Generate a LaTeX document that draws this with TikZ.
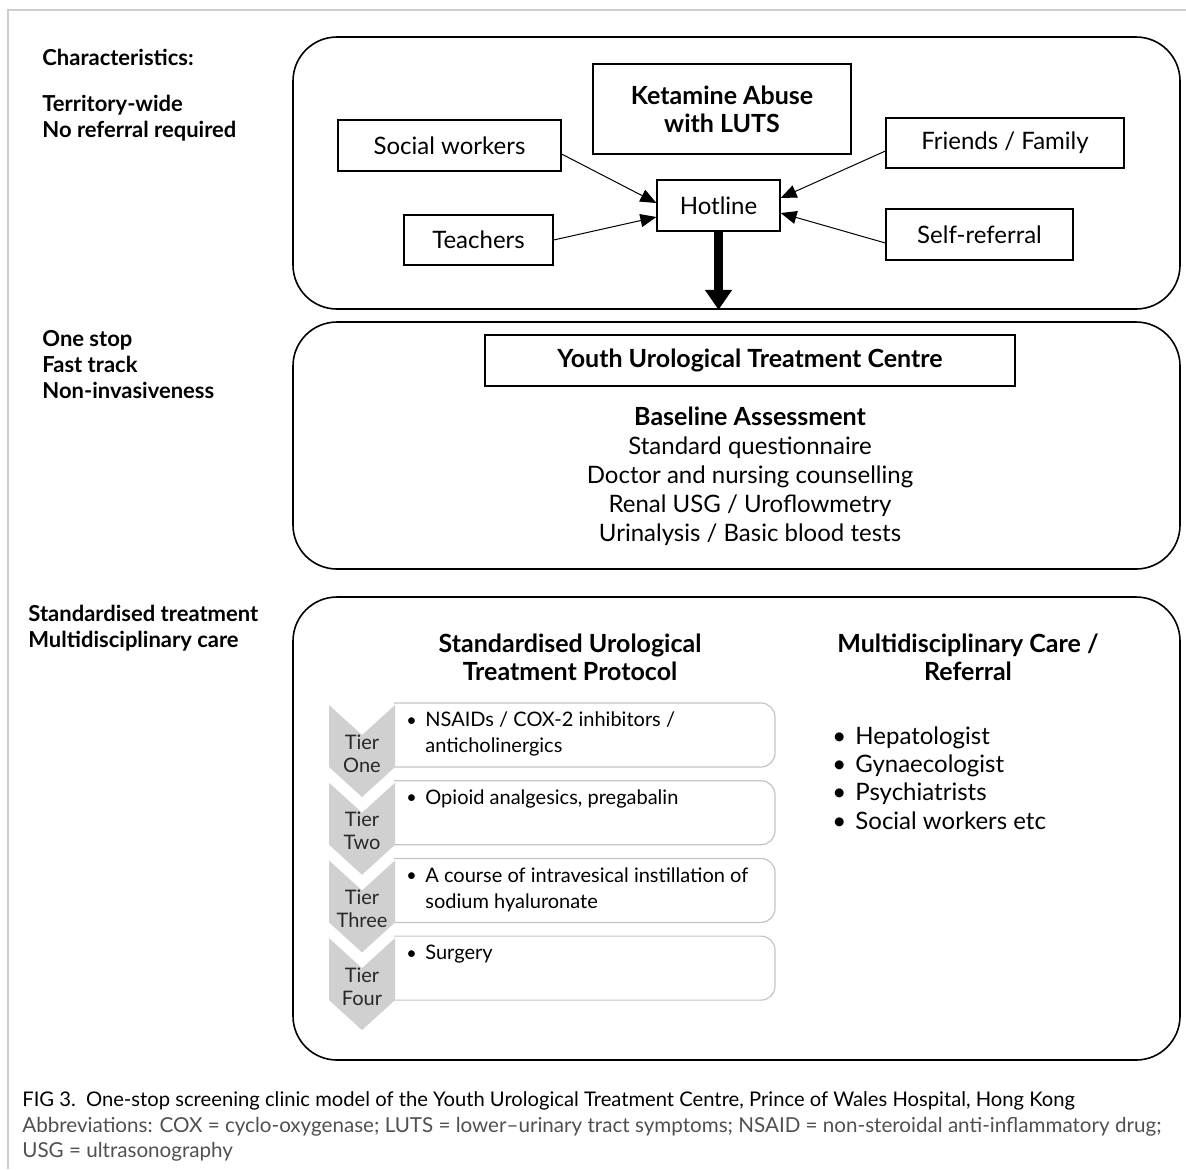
\documentclass[tikz,border=0pt]{standalone}
\usepackage{fontspec}
\setmainfont{Lato}
\usepackage{tikz}
\usetikzlibrary{arrows.meta, positioning, calc}
\definecolor{fgray}{RGB}{205,205,205}
\definecolor{cgray}{RGB}{208,208,208}
\definecolor{bgray}{RGB}{196,196,196}
\definecolor{tgray}{RGB}{40,40,40}
\definecolor{agray}{RGB}{80,80,80}
\newcommand{\refbul}{\makebox[11.5pt][l]{\textbullet}}

\begin{document}
\begin{tikzpicture}[x=0.5pt, y=-0.5pt, inner sep=0pt, font=\fontsize{12}{14}\selectfont,
    panel/.style={draw, line width=0.8pt, rounded corners=22pt},
    sbox/.style={draw, line width=0.6pt, align=center},
    feed/.style={-{Triangle[length=8pt,width=6.5pt]}, line width=0.5pt},
    lbl/.style={anchor=west, align=left, font=\fontsize{11}{13}\selectfont\bfseries},
    head/.style={align=center, font=\fontsize{12.5}{14}\selectfont\bfseries}]
  \useasboundingbox (0,0) rectangle (1186,1169);
  \draw[fgray, line width=1pt] (8,1169) -- (8,10) -- (1186,10);

  \node[lbl] (chr) at (42,57) {Characteristics:};
  \node[lbl] (ter) at (42,118.5) {Territory-wide\\No referral required};
  \node[lbl] (one) at (42,365) {One stop\\Fast track\\Non-invasiveness};
  \node[lbl] (std) at (28,628) {Standardised treatment\\Multidisciplinary care};

  \node[panel, minimum width=443.5pt, minimum height=136pt] (p1) at (736.5,173) {};
  \node[panel, minimum width=443.5pt, minimum height=123.5pt] (p2) at (736.5,445.5) {};
  \node[panel, minimum width=443.5pt, minimum height=231.5pt] (p3) at (736.5,828.5) {};

  \node[sbox, head, minimum width=129pt, minimum height=45pt] (ket) at (722,109) {Ketamine Abuse\\with LUTS};
  \node[sbox, minimum width=111.5pt, minimum height=25.5pt] (sw) at (449.5,145.5) {Social workers};
  \node[sbox, minimum width=74.5pt, minimum height=25pt] (tea) at (478.5,240) {Teachers};
  \node[sbox, minimum width=61.5pt, minimum height=25.5pt] (hot) at (718.5,205.5) {Hotline};
  \node[sbox, minimum width=119pt, minimum height=25pt] (fam) at (1005,143) {Friends / Family};
  \node[sbox, minimum width=93.5pt, minimum height=25.5pt] (self) at (979.5,234.5) {Self-referral};

  \draw[feed] ([yshift=-4.25pt]sw.east) -- ([yshift=1.25pt]hot.west);
  \draw[feed] (tea.east) -- ([yshift=-5.75pt]hot.west);
  \draw[feed] ([yshift=-4pt]fam.west) -- ([yshift=3.75pt]hot.east);
  \draw[feed] ([yshift=-4.25pt]self.west) -- ([yshift=-3.75pt]hot.east);
  \draw[line width=4.5pt, -{Triangle[length=10pt,width=13pt]}] (hot.south) -- (hot.south |- p1.south);

  \node[sbox, head, minimum width=265pt, minimum height=25.5pt] (yutc) at (750,360.5) {Youth Urological Treatment Centre};
  \node[align=center, font=\fontsize{12}{14.5}\selectfont] (base) at (750,476.5)
    {{\bfseries\fontsize{12.5}{14.5}\selectfont Baseline Assessment}\\Standard questionnaire\\
     Doctor and nursing counselling\\Renal USG / Uroflowmetry\\Urinalysis / Basic blood tests};

  \node[head] (proto) at (570,657) {Standardised Urological\\Treatment Protocol};
  \node[head] (multi) at (968,657) {Multidisciplinary Care /\\Referral};
  \node[anchor=west, align=left, font=\fontsize{12}{14.2}\selectfont] (refs) at (832,778)
    {\refbul Hepatologist\\\refbul Gynaecologist\\\refbul Psychiatrists\\\refbul Social workers etc};

  \foreach \i/\tn/\la/\lb in {
    0/One/{NSAIDs / COX-2 inhibitors /}/{anticholinergics},
    1/Two/{Opioid analgesics, pregabalin}/{},
    2/Three/{A course of intravesical instillation of}/{sodium hyaluronate},
    3/Four/{Surgery}/{}
  }{
    \pgfmathsetmacro{\y}{705+\i*77.7}
    \draw[bgray, line width=0.6pt, rounded corners=7pt] (394,\y-2) -- (775,\y-2) -- (775,\y+62) -- (394,\y+62);
    \fill[cgray] (329,\y) -- (362,\y+30) -- (395,\y) -- (395,\y+62) -- (362,\y+92) -- (329,\y+62) -- cycle;
    \node[align=center, text=tgray, font=\fontsize{10}{11.5}\selectfont] (tier\i) at (362,\y+48.5) {Tier\\\tn};
    \node[anchor=base west, font=\fontsize{9}{13}\selectfont] (dot\i) at (406,\y+21) {\textbullet};
    \node[anchor=north west, align=left, font=\fontsize{10}{13}\selectfont] (drug\i) at (425,\y+6.5) {\la\\\lb};
  }

  \node[anchor=base west, font=\fontsize{10.1}{12}\selectfont] (cap) at (22,1106)
    {FIG 3.\enspace One-stop screening clinic model of the Youth Urological Treatment Centre, Prince of Wales Hospital, Hong Kong};
  \node[anchor=base west, text=agray, font=\fontsize{10.3}{12}\selectfont] (abb) at (22,1132)
    {Abbreviations: COX = cyclo-oxygenase; LUTS = lower–urinary tract symptoms; NSAID = non-steroidal anti-inflammatory drug;};
  \node[anchor=base west, text=agray, font=\fontsize{10.3}{12}\selectfont] (usg) at (22,1157) {USG = ultrasonography};
\end{tikzpicture}
\end{document}
